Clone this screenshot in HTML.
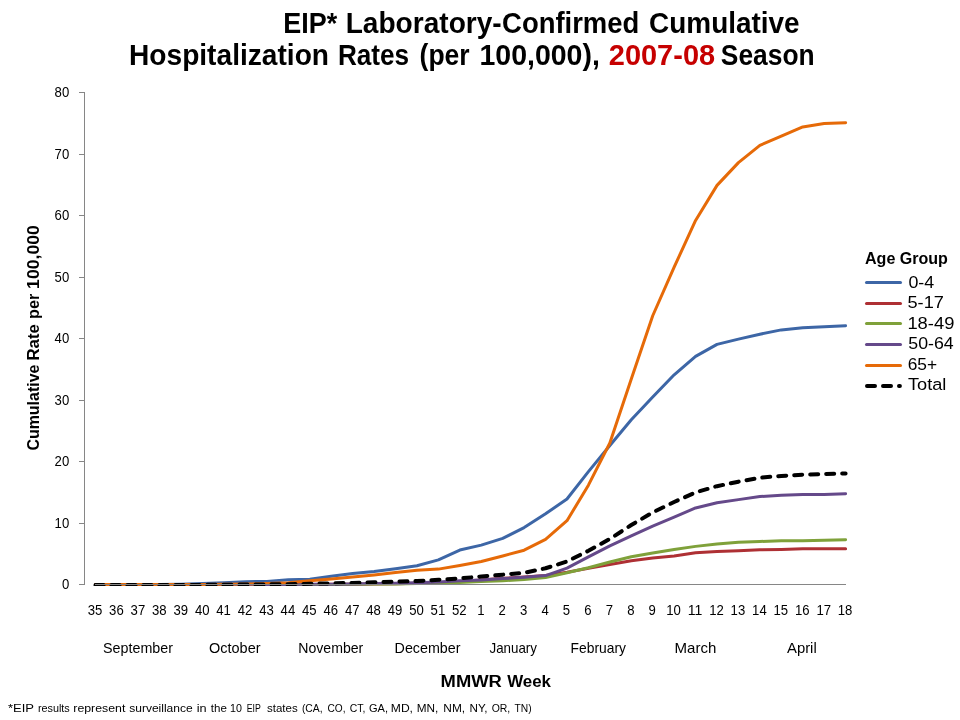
<!DOCTYPE html>
<html><head><meta charset="utf-8"><title>EIP Cumulative Hospitalization Rates 2007-08</title>
<style>html,body{margin:0;padding:0;background:#fff;}body{width:960px;height:720px;overflow:hidden;font-family:"Liberation Sans",sans-serif;}svg{display:block;will-change:transform;}text{font-family:"Liberation Sans",sans-serif;}</style>
</head><body>
<svg width="960" height="720" viewBox="0 0 960 720">
<rect x="0" y="0" width="960" height="720" fill="#ffffff"/>
<text x="283.20" y="32.9" font-size="28.6" textLength="54.00" lengthAdjust="spacingAndGlyphs" font-weight="bold">EIP*</text>
<text x="345.70" y="32.9" font-size="28.6" textLength="156.00" lengthAdjust="spacingAndGlyphs" font-weight="bold">Laboratory-</text>
<text x="502.10" y="32.9" font-size="28.6" textLength="137.20" lengthAdjust="spacingAndGlyphs" font-weight="bold">Confirmed</text>
<text x="649.10" y="32.9" font-size="28.6" textLength="150.50" lengthAdjust="spacingAndGlyphs" font-weight="bold">Cumulative</text>
<text x="129.00" y="64.7" font-size="28.6" textLength="200.00" lengthAdjust="spacingAndGlyphs" font-weight="bold">Hospitalization</text>
<text x="337.90" y="64.7" font-size="28.6" textLength="71.30" lengthAdjust="spacingAndGlyphs" font-weight="bold">Rates</text>
<text x="419.60" y="64.7" font-size="28.6" textLength="50.10" lengthAdjust="spacingAndGlyphs" font-weight="bold">(per</text>
<text x="479.50" y="64.7" font-size="28.6" textLength="120.30" lengthAdjust="spacingAndGlyphs" font-weight="bold">100,000),</text>
<text x="608.80" y="64.7" font-size="28.6" textLength="106.30" lengthAdjust="spacingAndGlyphs" font-weight="bold" fill="#c60000">2007-08</text>
<text x="720.80" y="64.7" font-size="28.6" textLength="93.80" lengthAdjust="spacingAndGlyphs" font-weight="bold">Season</text>
<text x="103.10" y="653" font-size="14.2" textLength="69.90" lengthAdjust="spacingAndGlyphs">September</text>
<text x="209.00" y="653" font-size="14.2" textLength="51.50" lengthAdjust="spacingAndGlyphs">October</text>
<text x="298.30" y="653" font-size="14.2" textLength="65.00" lengthAdjust="spacingAndGlyphs">November</text>
<text x="394.60" y="653" font-size="14.2" textLength="65.90" lengthAdjust="spacingAndGlyphs">December</text>
<text x="489.50" y="653" font-size="14.2" textLength="47.50" lengthAdjust="spacingAndGlyphs">January</text>
<text x="570.60" y="653" font-size="14.2" textLength="55.40" lengthAdjust="spacingAndGlyphs">February</text>
<text x="674.60" y="653" font-size="14.2" textLength="41.80" lengthAdjust="spacingAndGlyphs">March</text>
<text x="787.00" y="653" font-size="14.2" textLength="29.70" lengthAdjust="spacingAndGlyphs">April</text>
<text x="440.60" y="686.8" font-size="16" textLength="61.20" lengthAdjust="spacingAndGlyphs" font-weight="bold">MMWR</text>
<text x="507.20" y="686.8" font-size="16" textLength="43.80" lengthAdjust="spacingAndGlyphs" font-weight="bold">Week</text>
<text x="7.90" y="712" font-size="11.4" textLength="26.10" lengthAdjust="spacingAndGlyphs">*EIP</text>
<text x="37.90" y="712" font-size="11.4" textLength="31.90" lengthAdjust="spacingAndGlyphs">results</text>
<text x="73.30" y="712" font-size="11.4" textLength="52.10" lengthAdjust="spacingAndGlyphs">represent</text>
<text x="129.20" y="712" font-size="11.4" textLength="63.50" lengthAdjust="spacingAndGlyphs">surveillance</text>
<text x="196.80" y="712" font-size="11.4" textLength="9.90" lengthAdjust="spacingAndGlyphs">in</text>
<text x="210.80" y="712" font-size="11.4" textLength="16.10" lengthAdjust="spacingAndGlyphs">the</text>
<text x="230.10" y="712" font-size="11.4" textLength="11.90" lengthAdjust="spacingAndGlyphs">10</text>
<text x="246.70" y="712" font-size="11.4" textLength="14.10" lengthAdjust="spacingAndGlyphs">EIP</text>
<text x="267.00" y="712" font-size="11.4" textLength="30.70" lengthAdjust="spacingAndGlyphs">states</text>
<text x="301.90" y="712" font-size="11.4" textLength="20.70" lengthAdjust="spacingAndGlyphs">(CA,</text>
<text x="327.50" y="712" font-size="11.4" textLength="18.00" lengthAdjust="spacingAndGlyphs">CO,</text>
<text x="349.80" y="712" font-size="11.4" textLength="15.60" lengthAdjust="spacingAndGlyphs">CT,</text>
<text x="369.00" y="712" font-size="11.4" textLength="19.00" lengthAdjust="spacingAndGlyphs">GA,</text>
<text x="390.80" y="712" font-size="11.4" textLength="22.20" lengthAdjust="spacingAndGlyphs">MD,</text>
<text x="416.80" y="712" font-size="11.4" textLength="21.60" lengthAdjust="spacingAndGlyphs">MN,</text>
<text x="443.30" y="712" font-size="11.4" textLength="21.80" lengthAdjust="spacingAndGlyphs">NM,</text>
<text x="469.50" y="712" font-size="11.4" textLength="17.90" lengthAdjust="spacingAndGlyphs">NY,</text>
<text x="491.70" y="712" font-size="11.4" textLength="18.60" lengthAdjust="spacingAndGlyphs">OR,</text>
<text x="514.60" y="712" font-size="11.4" textLength="17.10" lengthAdjust="spacingAndGlyphs">TN)</text>
<text x="865.00" y="263.75" font-size="16" textLength="82.90" lengthAdjust="spacingAndGlyphs" font-weight="bold">Age Group</text>
<text x="908.40" y="287.8" font-size="16.3" textLength="25.80" lengthAdjust="spacingAndGlyphs">0-4</text>
<text x="907.50" y="308.1" font-size="16.3" textLength="36.40" lengthAdjust="spacingAndGlyphs">5-17</text>
<text x="907.40" y="328.8" font-size="16.3" textLength="47.00" lengthAdjust="spacingAndGlyphs">18-49</text>
<text x="908.30" y="348.8" font-size="16.3" textLength="45.40" lengthAdjust="spacingAndGlyphs">50-64</text>
<text x="907.70" y="369.7" font-size="16.3" textLength="29.40" lengthAdjust="spacingAndGlyphs">65+</text>
<text x="908.00" y="389.6" font-size="16.3" textLength="38.40" lengthAdjust="spacingAndGlyphs">Total</text>
<text transform="translate(38.8,450.60) rotate(-90)" font-size="15.6" font-weight="bold" textLength="86.00" lengthAdjust="spacingAndGlyphs">Cumulative</text>
<text transform="translate(38.8,360.50) rotate(-90)" font-size="15.6" font-weight="bold" textLength="36.30" lengthAdjust="spacingAndGlyphs">Rate</text>
<text transform="translate(38.8,318.90) rotate(-90)" font-size="15.6" font-weight="bold" textLength="25.10" lengthAdjust="spacingAndGlyphs">per</text>
<text transform="translate(38.8,288.90) rotate(-90)" font-size="15.6" font-weight="bold" textLength="63.80" lengthAdjust="spacingAndGlyphs">100,000</text>
<g stroke="#868686" stroke-width="1" fill="none" shape-rendering="crispEdges">
<line x1="84.5" y1="92" x2="84.5" y2="585"/>
<line x1="79" y1="584.5" x2="85" y2="584.5"/>
<line x1="79" y1="523.5" x2="85" y2="523.5"/>
<line x1="79" y1="461.5" x2="85" y2="461.5"/>
<line x1="79" y1="400.5" x2="85" y2="400.5"/>
<line x1="79" y1="338.5" x2="85" y2="338.5"/>
<line x1="79" y1="277.5" x2="85" y2="277.5"/>
<line x1="79" y1="215.5" x2="85" y2="215.5"/>
<line x1="79" y1="154.5" x2="85" y2="154.5"/>
<line x1="79" y1="92.5" x2="85" y2="92.5"/>
</g>
<g font-size="14.2" text-anchor="end">
<text x="69.2" y="589.1" textLength="7.3" lengthAdjust="spacingAndGlyphs">0</text>
<text x="69.2" y="528.1" textLength="14.6" lengthAdjust="spacingAndGlyphs">10</text>
<text x="69.2" y="466.1" textLength="14.6" lengthAdjust="spacingAndGlyphs">20</text>
<text x="69.2" y="405.1" textLength="14.6" lengthAdjust="spacingAndGlyphs">30</text>
<text x="69.2" y="343.1" textLength="14.6" lengthAdjust="spacingAndGlyphs">40</text>
<text x="69.2" y="282.1" textLength="14.6" lengthAdjust="spacingAndGlyphs">50</text>
<text x="69.2" y="220.1" textLength="14.6" lengthAdjust="spacingAndGlyphs">60</text>
<text x="69.2" y="159.1" textLength="14.6" lengthAdjust="spacingAndGlyphs">70</text>
<text x="69.2" y="97.1" textLength="14.6" lengthAdjust="spacingAndGlyphs">80</text>
</g>
<g font-size="14.2" text-anchor="middle">
<text x="95.0" y="615" textLength="14.6" lengthAdjust="spacingAndGlyphs">35</text>
<text x="116.4" y="615" textLength="14.6" lengthAdjust="spacingAndGlyphs">36</text>
<text x="137.9" y="615" textLength="14.6" lengthAdjust="spacingAndGlyphs">37</text>
<text x="159.3" y="615" textLength="14.6" lengthAdjust="spacingAndGlyphs">38</text>
<text x="180.7" y="615" textLength="14.6" lengthAdjust="spacingAndGlyphs">39</text>
<text x="202.2" y="615" textLength="14.6" lengthAdjust="spacingAndGlyphs">40</text>
<text x="223.6" y="615" textLength="14.6" lengthAdjust="spacingAndGlyphs">41</text>
<text x="245.0" y="615" textLength="14.6" lengthAdjust="spacingAndGlyphs">42</text>
<text x="266.5" y="615" textLength="14.6" lengthAdjust="spacingAndGlyphs">43</text>
<text x="287.9" y="615" textLength="14.6" lengthAdjust="spacingAndGlyphs">44</text>
<text x="309.3" y="615" textLength="14.6" lengthAdjust="spacingAndGlyphs">45</text>
<text x="330.7" y="615" textLength="14.6" lengthAdjust="spacingAndGlyphs">46</text>
<text x="352.2" y="615" textLength="14.6" lengthAdjust="spacingAndGlyphs">47</text>
<text x="373.6" y="615" textLength="14.6" lengthAdjust="spacingAndGlyphs">48</text>
<text x="395.0" y="615" textLength="14.6" lengthAdjust="spacingAndGlyphs">49</text>
<text x="416.5" y="615" textLength="14.6" lengthAdjust="spacingAndGlyphs">50</text>
<text x="437.9" y="615" textLength="14.6" lengthAdjust="spacingAndGlyphs">51</text>
<text x="459.3" y="615" textLength="14.6" lengthAdjust="spacingAndGlyphs">52</text>
<text x="480.8" y="615" textLength="7.3" lengthAdjust="spacingAndGlyphs">1</text>
<text x="502.2" y="615" textLength="7.3" lengthAdjust="spacingAndGlyphs">2</text>
<text x="523.6" y="615" textLength="7.3" lengthAdjust="spacingAndGlyphs">3</text>
<text x="545.1" y="615" textLength="7.3" lengthAdjust="spacingAndGlyphs">4</text>
<text x="566.5" y="615" textLength="7.3" lengthAdjust="spacingAndGlyphs">5</text>
<text x="587.9" y="615" textLength="7.3" lengthAdjust="spacingAndGlyphs">6</text>
<text x="609.4" y="615" textLength="7.3" lengthAdjust="spacingAndGlyphs">7</text>
<text x="630.8" y="615" textLength="7.3" lengthAdjust="spacingAndGlyphs">8</text>
<text x="652.2" y="615" textLength="7.3" lengthAdjust="spacingAndGlyphs">9</text>
<text x="673.6" y="615" textLength="14.6" lengthAdjust="spacingAndGlyphs">10</text>
<text x="695.1" y="615" textLength="14.6" lengthAdjust="spacingAndGlyphs">11</text>
<text x="716.5" y="615" textLength="14.6" lengthAdjust="spacingAndGlyphs">12</text>
<text x="737.9" y="615" textLength="14.6" lengthAdjust="spacingAndGlyphs">13</text>
<text x="759.4" y="615" textLength="14.6" lengthAdjust="spacingAndGlyphs">14</text>
<text x="780.8" y="615" textLength="14.6" lengthAdjust="spacingAndGlyphs">15</text>
<text x="802.2" y="615" textLength="14.6" lengthAdjust="spacingAndGlyphs">16</text>
<text x="823.7" y="615" textLength="14.6" lengthAdjust="spacingAndGlyphs">17</text>
<text x="845.1" y="615" textLength="14.6" lengthAdjust="spacingAndGlyphs">18</text>
</g>
<clipPath id="pc"><rect x="80" y="80" width="800" height="506"/></clipPath>
<g fill="none" stroke-width="3" stroke-linecap="round" stroke-linejoin="round" clip-path="url(#pc)">
<polyline stroke="#3d66a6" points="95.50,584.50 116.93,584.50 138.36,584.50 159.79,584.50 181.23,584.19 202.66,583.58 224.09,582.65 245.52,581.73 266.95,581.42 288.38,579.70 309.81,579.27 331.25,576.20 352.68,573.43 374.11,571.40 395.54,568.69 416.97,565.74 438.40,559.90 459.83,550.06 481.27,545.14 502.70,538.38 524.13,527.61 545.56,513.77 566.99,499.01 588.42,471.65 609.85,445.51 631.29,419.68 652.72,396.92 674.15,374.78 695.58,356.33 717.01,344.34 738.44,339.12 759.87,334.19 781.31,329.89 802.74,327.74 824.17,326.81 845.60,325.71"/>
<polyline stroke="#ae3034" points="95.50,584.50 116.93,584.50 138.36,584.50 159.79,584.50 181.23,584.50 202.66,584.50 224.09,584.50 245.52,584.50 266.95,584.50 288.38,584.50 309.81,584.50 331.25,584.32 352.68,584.19 374.11,584.01 395.54,583.76 416.97,583.27 438.40,582.65 459.83,581.42 481.27,579.89 502.70,578.35 524.13,577.12 545.56,575.58 566.99,572.20 588.42,568.20 609.85,564.45 631.29,560.82 652.72,558.05 674.15,556.09 695.58,552.83 717.01,551.47 738.44,550.67 759.87,549.69 781.31,549.45 802.74,548.83 824.17,548.71 845.60,548.71"/>
<polyline stroke="#7fa13a" points="95.50,584.50 116.93,584.50 138.36,584.50 159.79,584.50 181.23,584.50 202.66,584.50 224.09,584.50 245.52,584.50 266.95,584.50 288.38,584.50 309.81,584.50 331.25,584.38 352.68,584.25 374.11,584.07 395.54,583.88 416.97,583.58 438.40,583.15 459.83,582.47 481.27,581.61 502.70,580.81 524.13,579.40 545.56,577.61 566.99,572.82 588.42,567.77 609.85,561.93 631.29,556.83 652.72,552.95 674.15,549.45 695.58,546.37 717.01,543.91 738.44,542.19 759.87,541.45 781.31,540.84 802.74,540.84 824.17,540.22 845.60,539.73"/>
<polyline stroke="#65498a" points="95.50,584.50 116.93,584.50 138.36,584.50 159.79,584.50 181.23,584.50 202.66,584.50 224.09,584.50 245.52,584.50 266.95,584.50 288.38,584.50 309.81,584.32 331.25,584.13 352.68,583.88 374.11,583.58 395.54,583.15 416.97,582.65 438.40,581.92 459.83,580.81 481.27,579.89 502.70,578.60 524.13,577.24 545.56,575.58 566.99,568.20 588.42,556.83 609.85,545.94 631.29,535.91 652.72,526.08 674.15,517.16 695.58,507.93 717.01,502.70 738.44,499.63 759.87,496.56 781.31,495.32 802.74,494.46 824.17,494.46 845.60,493.73"/>
<polyline stroke="#e66a08" points="95.50,584.50 116.93,584.50 138.36,584.50 159.79,584.50 181.23,584.50 202.66,584.50 224.09,584.19 245.52,583.88 266.95,583.58 288.38,582.84 309.81,580.81 331.25,579.09 352.68,577.00 374.11,574.91 395.54,572.45 416.97,570.36 438.40,569.12 459.83,565.43 481.27,561.44 502.70,555.96 524.13,550.18 545.56,539.42 566.99,520.72 588.42,485.18 609.85,443.05 631.29,379.09 652.72,315.74 674.15,267.16 695.58,220.42 717.01,185.36 738.44,162.61 759.87,145.39 781.31,136.16 802.74,126.94 824.17,123.56 845.60,122.63"/>
<polyline transform="translate(0,0.5)" stroke="#000000" stroke-width="4" stroke-dasharray="8 8" points="95.50,584.50 116.93,584.50 138.36,584.50 159.79,584.50 181.23,584.50 202.66,584.38 224.09,584.19 245.52,584.01 266.95,583.88 288.38,583.64 309.81,583.27 331.25,582.84 352.68,582.41 374.11,581.79 395.54,581.18 416.97,580.56 438.40,579.27 459.83,577.86 481.27,576.01 502.70,574.17 524.13,572.32 545.56,567.77 566.99,561.01 588.42,550.24 609.85,538.44 631.29,524.54 652.72,511.93 674.15,501.48 695.58,491.94 717.01,485.67 738.44,481.18 759.87,477.18 781.31,475.46 802.74,474.23 824.17,473.43 845.60,472.94"/>
</g>
<line x1="94.5" y1="584.5" x2="846" y2="584.5" stroke="#868686" stroke-width="1" shape-rendering="crispEdges"/>
<g fill="none" stroke-width="3" stroke-linecap="round">
<line x1="866.5" y1="282.50" x2="900.5" y2="282.50" stroke="#3d66a6"/>
<line x1="866.5" y1="303.50" x2="900.5" y2="303.50" stroke="#ae3034"/>
<line x1="866.5" y1="323.50" x2="900.5" y2="323.50" stroke="#7fa13a"/>
<line x1="866.5" y1="344.50" x2="900.5" y2="344.50" stroke="#65498a"/>
<line x1="866.5" y1="365.50" x2="900.5" y2="365.50" stroke="#e66a08"/>
<line x1="867" y1="386" x2="899.9" y2="386" stroke="#000" stroke-width="4" stroke-dasharray="8 8"/>
</g>
</svg>
</body></html>
